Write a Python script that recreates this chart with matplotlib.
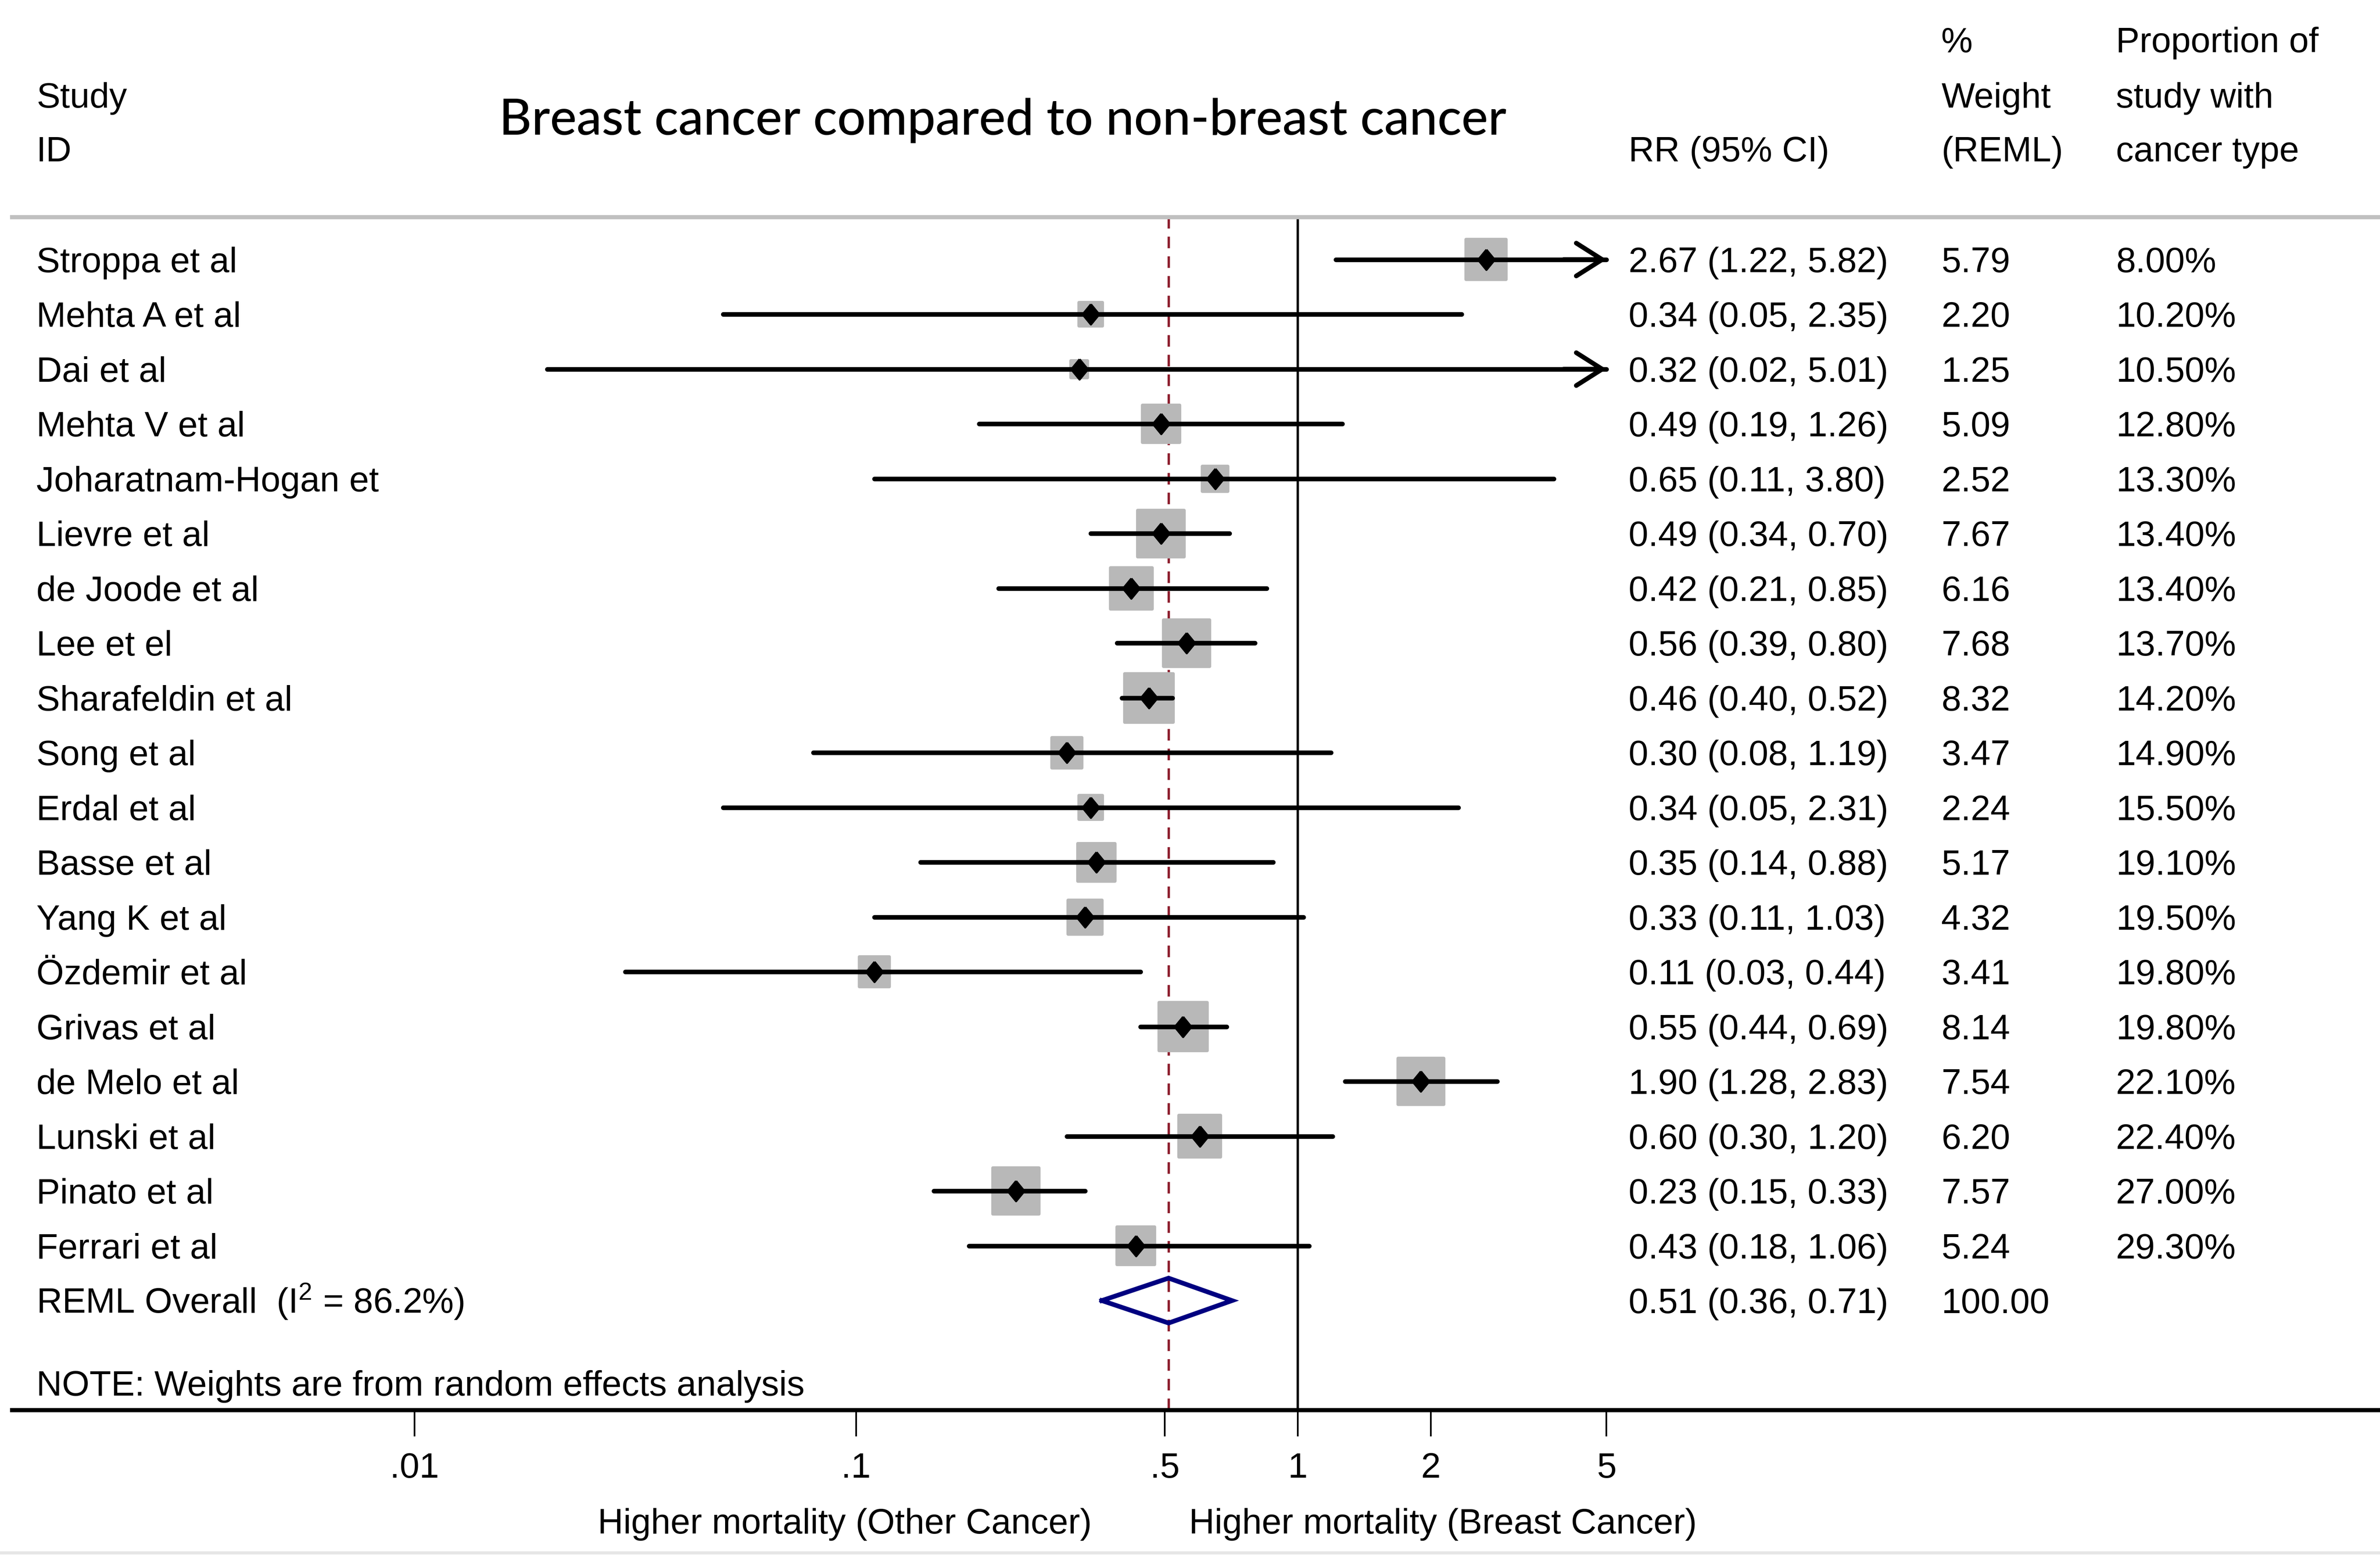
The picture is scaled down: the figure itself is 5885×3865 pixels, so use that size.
import numpy as np
import matplotlib.pyplot as plt
import matplotlib.transforms as mtransforms
from matplotlib.lines import Line2D
from matplotlib.ticker import NullLocator

plt.rcParams['font.family'] = 'Liberation Sans'
plt.rcParams['mathtext.fontset'] = 'custom'
plt.rcParams['mathtext.rm'] = 'Liberation Sans'
plt.rcParams['mathtext.it'] = 'Liberation Sans'

# datos del forest plot
estudios = ["Stroppa et al", "Mehta A et al", "Dai et al", "Mehta V et al",
            "Joharatnam-Hogan et", "Lievre et al", "de Joode et al", "Lee et el",
            "Sharafeldin et al", "Song et al", "Erdal et al", "Basse et al",
            "Yang K et al", "Özdemir et al", "Grivas et al", "de Melo et al",
            "Lunski et al", "Pinato et al", "Ferrari et al"]
rr = [2.67, 0.34, 0.32, 0.49, 0.65, 0.49, 0.42, 0.56, 0.46, 0.30,
      0.34, 0.35, 0.33, 0.11, 0.55, 1.90, 0.60, 0.23, 0.43]
ic_inf = [1.22, 0.05, 0.02, 0.19, 0.11, 0.34, 0.21, 0.39, 0.40, 0.08,
          0.05, 0.14, 0.11, 0.03, 0.44, 1.28, 0.30, 0.15, 0.18]
ic_sup = [5.82, 2.35, 5.01, 1.26, 3.80, 0.70, 0.85, 0.80, 0.52, 1.19,
          2.31, 0.88, 1.03, 0.44, 0.69, 2.83, 1.20, 0.33, 1.06]
peso = [5.79, 2.20, 1.25, 5.09, 2.52, 7.67, 6.16, 7.68, 8.32, 3.47,
        2.24, 5.17, 4.32, 3.41, 8.14, 7.54, 6.20, 7.57, 5.24]
proporcion = ["8.00%", "10.20%", "10.50%", "12.80%", "13.30%", "13.40%",
              "13.40%", "13.70%", "14.20%", "14.90%", "15.50%", "19.10%",
              "19.50%", "19.80%", "19.80%", "22.10%", "22.40%", "27.00%",
              "29.30%"]
rr_global, inf_global, sup_global = 0.51, 0.36, 0.71
peso_global = 100.00
i2 = 86.2
ticks = [0.01, 0.1, 0.5, 1, 2, 5]
tick_labels = [".01", ".1", ".5", "1", "2", "5"]
tope = 5  # los IC se cortan aqui con flecha

W, H = 5885, 3865
PX = W / 1568  # pixeles reales por pixel de referencia
fig = plt.figure(figsize=(W / 375, H / 375), dpi=375)


def fx(p):
    return p / 1568


def fy(p):
    return 1 - p * PX / H


FS = 16.8
ax = fig.add_axes([fx(8), fy(929), 1 - fx(8), fy(143) - fy(929)])
ax.set_xscale('log')
ax.set_xlim(10 ** ((8 - 855) / 291), 10 ** ((1568 - 855) / 291))
ax.set_ylim((929 - 171) / 36.1, (143 - 171) / 36.1)

for lado in ['left', 'right']:
    ax.spines[lado].set_visible(False)
ax.spines['top'].set_color('#C0C0C0')
ax.spines['top'].set_linewidth(2.0)
ax.spines['bottom'].set_linewidth(2.0)
ax.set_yticks([])
ax.set_xticks(ticks, tick_labels)
ax.xaxis.set_minor_locator(NullLocator())
ax.tick_params(axis='x', length=12.5, width=0.8, pad=7.5, labelsize=FS)

y = np.arange(len(estudios))
n = len(estudios)

# lineas de referencia
ax.axvline(1, color='black', lw=1.1, zorder=1)
ax.axvline(rr_global, color='#8C1C2C', lw=1.1, ls=(0, (5, 3.5)), zorder=1)

# cuadrados de peso (esquinas algo redondeadas)
lado_pt = 8.5 * np.sqrt(np.array(peso)) - 1.5
ax.scatter(rr, y, s=lado_pt ** 2, marker='s', facecolor='#B8B8B8',
           edgecolor='#B8B8B8', linewidths=1.5, joinstyle='round', zorder=2)

# intervalos de confianza
lineas = ax.hlines(y, ic_inf, np.minimum(ic_sup, tope), color='black',
                   lw=2.2, zorder=3)
lineas.set_capstyle('round')
for i in range(n):
    if ic_sup[i] > tope:
        ax.annotate('', xy=(tope, i), xytext=(tope * 0.8, i),
                    arrowprops=dict(arrowstyle='->,head_length=1.23,head_width=0.78',
                                    lw=2.2, color='black', shrinkA=0, shrinkB=0,
                                    mutation_scale=10), zorder=3)

rombo = [(0, 1), (0.82, 0), (0, -1), (-0.82, 0), (0, 1)]
ax.plot(rr, y, ls='none', marker=rombo, ms=9.6, color='black', zorder=4)

# diamante global
yg = n
ax.plot([inf_global, rr_global, sup_global, rr_global, inf_global],
        [yg, yg - 0.41, yg, yg + 0.41, yg], color='#000080', lw=2.2,
        solid_joinstyle='miter', zorder=3)

# columnas de texto
tr = mtransforms.blended_transform_factory(fig.transFigure, ax.transData)
dy = 0.23
for i in range(n):
    ax.text(fx(24), i + dy, estudios[i], transform=tr, fontsize=FS, va='baseline')
    ax.text(fx(1073), i + dy, f"{rr[i]:.2f} ({ic_inf[i]:.2f}, {ic_sup[i]:.2f})",
            transform=tr, fontsize=FS, va='baseline')
    ax.text(fx(1279), i + dy, f"{peso[i]:.2f}", transform=tr, fontsize=FS, va='baseline')
    ax.text(fx(1394), i + dy, proporcion[i], transform=tr, fontsize=FS, va='baseline')

ax.text(fx(24), yg + dy, f"REML Overall  (I$^{{2}}$ = {i2}%)", transform=tr,
        fontsize=FS, va='baseline')
ax.text(fx(1073), yg + dy, f"{rr_global:.2f} ({inf_global:.2f}, {sup_global:.2f})",
        transform=tr, fontsize=FS, va='baseline')
ax.text(fx(1279), yg + dy, f"{peso_global:.2f}", transform=tr, fontsize=FS, va='baseline')
ax.text(fx(24), n + 1.5 + dy, "NOTE: Weights are from random effects analysis",
        transform=tr, fontsize=FS, va='baseline')

# encabezados
fig.text(fx(24), fy(70.8), "Study", fontsize=FS, va='baseline')
fig.text(fx(24), fy(106.3), "ID", fontsize=FS, va='baseline')
fig.text(fx(1073), fy(106.3), "RR (95% CI)", fontsize=FS, va='baseline')
fig.text(fx(1279), fy(34.3), "%", fontsize=FS, va='baseline')
fig.text(fx(1279), fy(70.8), "Weight", fontsize=FS, va='baseline')
fig.text(fx(1279), fy(106.3), "(REML)", fontsize=FS, va='baseline')
fig.text(fx(1394), fy(34.3), "Proportion of", fontsize=FS, va='baseline')
fig.text(fx(1394), fy(70.8), "study with", fontsize=FS, va='baseline')
fig.text(fx(1394), fy(106.3), "cancer type", fontsize=FS, va='baseline')

titulo = fig.text(fx(660.5), fy(88.7), "Breast cancer compared to non-breast cancer",
                  fontsize=22.7, family='Lato', fontweight='medium',
                  ha='center', va='baseline')
fig.canvas.draw()
ancho = titulo.get_window_extent().width
titulo.set_fontsize(22.7 * 663 * PX / ancho)

# etiquetas del eje
fig.text(fx(556.5), fy(1010.3), "Higher mortality (Other Cancer)", fontsize=FS,
         ha='center', va='baseline')
fig.text(fx(950.5), fy(1010.3), "Higher mortality (Breast Cancer)", fontsize=FS,
         ha='center', va='baseline')

fig.add_artist(Line2D([0, 1], [fy(1023), fy(1023)], color='#E6E6E6', lw=1.5,
                      transform=fig.transFigure))

fig.savefig('out.png', dpi=375)
